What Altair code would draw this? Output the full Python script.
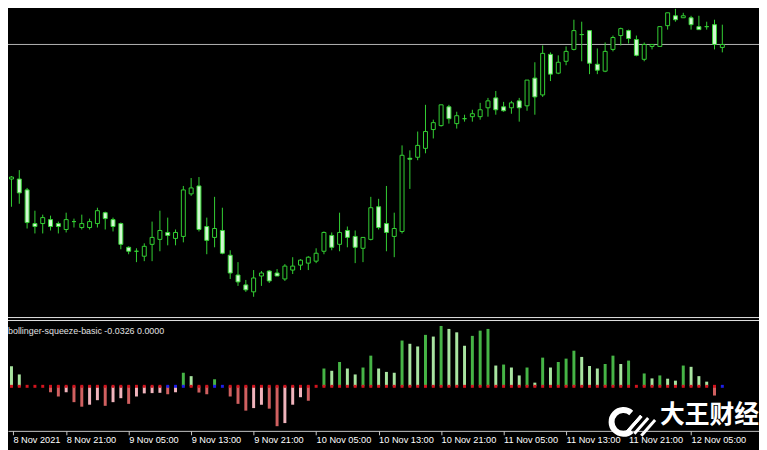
import altair as alt
import pandas as pd

# ---------------- data (hourly candles, bar index -1 .. 91) ----------------
bar_index = list(range(-1, 92))

open_ = [113.320, 113.310, 113.310, 113.255, 113.085, 113.085, 113.105, 113.085, 113.055, 113.095,
         113.065, 113.065, 113.085, 113.140, 113.105, 113.085, 112.965, 112.945, 112.920, 112.980,
         113.005, 113.040, 113.010, 113.020, 113.235, 113.275, 113.070, 113.015, 113.050, 112.925,
         112.825, 112.775, 112.740, 112.820, 112.845, 112.835, 112.805, 112.850, 112.875, 112.885,
         112.895, 112.945, 113.025, 112.980, 113.050, 113.020, 112.960, 113.005, 113.170, 113.085,
         113.020, 113.045, 113.415, 113.420, 113.465, 113.560, 113.580, 113.675, 113.590, 113.615,
         113.625, 113.625, 113.670, 113.720, 113.675, 113.670, 113.705, 113.680, 113.820, 113.735,
         113.940, 113.845, 113.905, 113.965, 114.040, 114.060, 113.890, 113.855, 113.965, 114.035,
         114.060, 114.015, 113.915, 113.980, 113.980, 114.085, 114.135, 114.125, 114.125, 114.080,
         114.080, 114.090, 113.975]
high = [113.330, 113.325, 113.355, 113.265, 113.150, 113.130, 113.125, 113.095, 113.140, 113.110,
        113.130, 113.110, 113.165, 113.145, 113.115, 113.090, 112.970, 112.960, 112.985, 113.095,
        113.150, 113.115, 113.055, 113.275, 113.315, 113.320, 113.115, 113.220, 113.165, 112.950,
        112.890, 112.800, 112.850, 112.845, 112.850, 112.855, 112.880, 112.915, 112.905, 112.920,
        112.960, 113.045, 113.040, 113.140, 113.070, 113.050, 113.015, 113.220, 113.210, 113.275,
        113.140, 113.480, 113.455, 113.550, 113.685, 113.610, 113.685, 113.685, 113.650, 113.635,
        113.660, 113.695, 113.720, 113.755, 113.700, 113.705, 113.720, 113.810, 113.900, 113.985,
        113.950, 113.935, 113.980, 114.115, 114.105, 114.060, 113.970, 114.000, 114.035, 114.075,
        114.065, 114.035, 114.000, 113.990, 114.080, 114.150, 114.170, 114.150, 114.135, 114.135,
        114.105, 114.115, 114.090]
low = [113.290, 113.170, 113.185, 113.060, 113.035, 113.035, 113.050, 113.035, 113.040, 113.065,
       113.055, 113.055, 113.065, 113.055, 113.045, 112.955, 112.930, 112.890, 112.895, 112.895,
       112.945, 112.975, 112.975, 112.990, 113.225, 113.045, 112.930, 112.965, 112.930, 112.805,
       112.770, 112.740, 112.715, 112.770, 112.785, 112.820, 112.795, 112.830, 112.850, 112.850,
       112.885, 112.930, 112.950, 112.945, 112.965, 112.885, 112.890, 113.000, 113.055, 112.945,
       112.915, 113.035, 113.260, 113.405, 113.440, 113.515, 113.575, 113.590, 113.565, 113.600,
       113.600, 113.610, 113.625, 113.635, 113.650, 113.640, 113.600, 113.655, 113.635, 113.725,
       113.805, 113.840, 113.885, 113.960, 113.905, 113.840, 113.840, 113.850, 113.955, 113.985,
       113.995, 113.930, 113.905, 113.965, 113.980, 114.065, 114.105, 114.125, 114.065, 114.065,
       114.065, 113.965, 113.950]
close = [113.310, 113.320, 113.240, 113.090, 113.070, 113.115, 113.070, 113.070, 113.105, 113.095,
         113.085, 113.095, 113.150, 113.110, 113.070, 112.980, 112.945, 112.945, 112.970, 113.015,
         113.050, 113.025, 113.040, 113.255, 113.265, 113.055, 113.000, 113.060, 112.935, 112.835,
         112.790, 112.750, 112.810, 112.835, 112.795, 112.820, 112.870, 112.870, 112.900, 112.915,
         112.935, 113.040, 112.965, 113.040, 113.015, 112.965, 113.015, 113.165, 113.065, 113.040,
         113.060, 113.430, 113.410, 113.480, 113.550, 113.595, 113.685, 113.615, 113.630, 113.615,
         113.640, 113.660, 113.705, 113.660, 113.655, 113.695, 113.670, 113.810, 113.725, 113.945,
         113.840, 113.900, 113.955, 114.060, 114.040, 113.895, 113.860, 113.955, 114.025, 114.070,
         114.020, 113.935, 113.990, 113.990, 114.080, 114.150, 114.115, 114.135, 114.090, 114.065,
         114.080, 113.990, 113.990]

# bollinger squeeze momentum histogram
momentum = [0.085, 0.071, 0.042, 0.0, 0.0, 0.0, -0.021, -0.036, -0.021, -0.056,
            -0.072, -0.065, -0.049, -0.069, -0.056, -0.042, -0.062, -0.036, -0.025, -0.024,
            -0.023, -0.028, -0.021, 0.048, 0.036, -0.022, -0.028, 0.025, 0.0, -0.036,
            -0.062, -0.086, -0.077, -0.065, -0.079, -0.141, -0.130, -0.065, -0.0385, -0.051,
            0.0, 0.063, 0.055, 0.086, 0.063, 0.042, 0.0665, 0.1085, 0.063, 0.051,
            0.048, 0.162, 0.1505, 0.141, 0.182, 0.176, 0.2135, 0.203, 0.191, 0.1435,
            0.1785, 0.197, 0.203, 0.0735, 0.077, 0.0665, 0.0385, 0.0665, 0.013, 0.1015,
            0.0665, 0.086, 0.098, 0.126, 0.104, 0.072, 0.063, 0.079, 0.1085, 0.079,
            0.091, 0.0, 0.0455, 0.028, 0.0385, 0.027, 0.020, 0.0735, 0.069, 0.036,
            0.0165, -0.0326, 0.0]
# 1 = squeeze on (red dot), 0 = off (blue dot)
squeeze_on = [1, 1, 1, 1, 1, 1, 1, 1, 1, 1,
              1, 1, 1, 1, 1, 1, 1, 1, 1, 1,
              1, 0, 0, 0, 1, 1, 1, 0, 0, 1,
              1, 1, 1, 1, 1, 1, 1, 1, 1, 1,
              1, 1, 1, 1, 1, 1, 1, 1, 1, 1,
              1, 1, 1, 1, 1, 1, 1, 1, 1, 1,
              1, 1, 1, 1, 1, 1, 1, 1, 1, 1,
              1, 1, 1, 1, 1, 1, 1, 1, 1, 1,
              1, 1, 1, 1, 1, 1, 1, 1, 1, 1,
              1, 1, 0]

level_line = [113.99]

tick_pos = [0.1875, 7, 15, 23, 31, 39, 47, 55, 63, 71, 79, 87]
tick_labels = ["8 Nov 2021", "8 Nov 21:00", "9 Nov 05:00", "9 Nov 13:00", "9 Nov 21:00",
               "10 Nov 05:00", "10 Nov 13:00", "10 Nov 21:00", "11 Nov 05:00",
               "11 Nov 13:00", "11 Nov 21:00", "12 Nov 05:00"]

indicator_label = "bollinger-squeeze-basic -0.0326 0.0000"
watermark = "大王财经"

# ---------------- table ----------------
shade = []
for i, v in enumerate(momentum):
    prev = momentum[i - 1] if i > 0 else v
    if v >= 0:
        shade.append("up" if v >= prev else "up_fade")
    else:
        shade.append("down" if v <= prev else "down_fade")

df = pd.DataFrame({
    "k": bar_index, "open": open_, "high": high, "low": low, "close": close,
    "mom": momentum, "shade": shade,
    "squeeze": ["on" if s else "off" for s in squeeze_on],
    "base": [0.0] * len(bar_index),
})
df["dir"] = ["bull" if c > o else "bear" for o, c in zip(df["open"], df["close"])]

W, H = 759, 425
GREEN = "#34d034"

x_scale = alt.Scale(domain=[0.1875, 95.0625], range=[0, W], nice=False, zero=False)
price_scale = alt.Scale(domain=[112.6, 114.2], range=[312.5, -7.5], nice=False, zero=False)
mom_scale = alt.Scale(domain=[-0.2, 0.2], range=[437.142857, 322.857143], nice=False, zero=False)

label_expr = "{}[indexof({}, datum.value)]".format(
    "[" + ",".join("'" + t + "'" for t in tick_labels) + "]",
    "[" + ",".join(str(p) for p in tick_pos) + "]")

x_axis = alt.Axis(values=tick_pos, labelExpr=label_expr, labelAlign="left",
                  labelBaseline="alphabetic", labelPadding=8, labelColor="#ffffff",
                  labelFont="Liberation Sans", labelFontSize=9.3, labelOverlap=False,
                  labelFlush=False, labelBound=False, tickColor="#c8c8c8", tickSize=4,
                  domainColor="#c8c8c8", grid=False, title=None)
X = alt.X("k:Q", scale=x_scale, axis=x_axis)

base = alt.Chart(df)

hline = alt.Chart(pd.DataFrame({"p": level_line})).mark_rule(
    color="#b4b4b4", strokeWidth=1).encode(
    y=alt.Y("p:Q", scale=price_scale, axis=None))

wicks = base.mark_rule(color=GREEN, strokeWidth=1).encode(
    x=X, y=alt.Y("low:Q", scale=price_scale, axis=None), y2="high:Q")

bodies = base.mark_bar(width=4, stroke=GREEN, strokeWidth=1).encode(
    x=X, y=alt.Y("open:Q", scale=price_scale, axis=None), y2="close:Q",
    fill=alt.Fill("dir:N", scale=alt.Scale(domain=["bull", "bear"], range=["#000000", "#d2f8d2"]),
                  legend=None))

hist = base.transform_filter("datum.mom != 0").mark_bar(width=3).encode(
    x=X, y=alt.Y("mom:Q", scale=mom_scale, axis=None), y2="base:Q",
    color=alt.Color("shade:N", scale=alt.Scale(
        domain=["up", "up_fade", "down", "down_fade"],
        range=["#46b446", "#a8e4a0", "#d06060", "#f0b4bc"]), legend=None))

dots = base.mark_square(size=9, opacity=1).encode(
    x=X, y=alt.Y("base:Q", scale=mom_scale, axis=None),
    color=alt.Color("squeeze:N", scale=alt.Scale(domain=["on", "off"], range=["#d2141e", "#1e1ee6"]),
                    legend=None))

sep = alt.Chart(pd.DataFrame({"s": [0]})).mark_rule(color="#e6e6e6", strokeWidth=1).encode(
    x=alt.value(0), x2=alt.value(W), y=alt.value(310.5))
sep2 = alt.Chart(pd.DataFrame({"s": [0]})).mark_rule(color="#e6e6e6", strokeWidth=1).encode(
    x=alt.value(0), x2=alt.value(W), y=alt.value(313.5))

ind_text = alt.Chart(pd.DataFrame({"t": [indicator_label]})).mark_text(
    align="left", baseline="alphabetic", font="Liberation Sans", fontSize=9, color="#e0e0e0").encode(
    text="t:N", x=alt.value(0), y=alt.value(327))

# watermark: ring logo with stripes and brand text
logo = alt.Chart(pd.DataFrame({"t": [0]})).mark_arc(
    innerRadius=9, outerRadius=15, theta=2.4, theta2=7.0, color="#ffffff").encode(
    x=alt.value(622), y=alt.value(416))
stripes = alt.Chart(pd.DataFrame({"s": [0, 1, 2]})).mark_rule(
    color="#ffffff", strokeWidth=3).encode(
    x=alt.value(626), x2=alt.value(640), y=alt.value(426), y2=alt.value(410))
stripe2 = alt.Chart(pd.DataFrame({"s": [0]})).mark_rule(color="#ffffff", strokeWidth=3).encode(
    x=alt.value(633), x2=alt.value(647), y=alt.value(428), y2=alt.value(412))
stripe3 = alt.Chart(pd.DataFrame({"s": [0]})).mark_rule(color="#ffffff", strokeWidth=3).encode(
    x=alt.value(640), x2=alt.value(654), y=alt.value(430), y2=alt.value(414))

wm = alt.Chart(pd.DataFrame({"t": [watermark]})).mark_text(
    align="left", baseline="middle", font="Noto Sans CJK SC", fontWeight="bold", fontSize=25,
    color="#ffffff").encode(text="t:N", x=alt.value(659), y=alt.value(409))

chart = alt.layer(hline, wicks, bodies, sep, sep2, hist, dots, ind_text,
                  logo, stripes, stripe2, stripe3, wm).resolve_scale(
    y="independent", color="independent", fill="independent").properties(
    width=W, height=H,
    autosize=alt.AutoSizeParams(type="none"),
    padding={"left": 0, "top": 0, "right": 0, "bottom": 17},
    background="#000000",
).configure_view(strokeWidth=0)

chart.save("out.html", embed_options={"renderer": "svg", "actions": False})
